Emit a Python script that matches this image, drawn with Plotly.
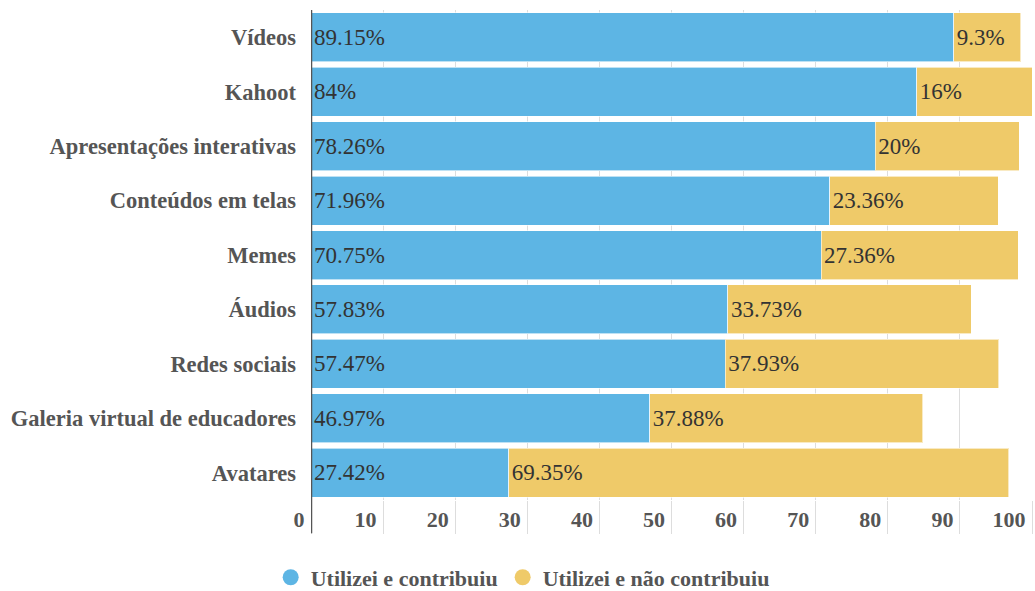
import plotly.graph_objects as go

# Ferramentas avaliadas (de cima para baixo)
categorias = [
    "Vídeos",
    "Kahoot",
    "Apresentações interativas",
    "Conteúdos em telas",
    "Memes",
    "Áudios",
    "Redes sociais",
    "Galeria virtual de educadores",
    "Avatares",
]
contribuiu = [89.15, 84, 78.26, 71.96, 70.75, 57.83, 57.47, 46.97, 27.42]
nao_contribuiu = [9.3, 16, 20, 23.36, 27.36, 33.73, 37.93, 37.88, 69.35]
ticks_x = [0, 10, 20, 30, 40, 50, 60, 70, 80, 90, 100]

serie_nomes = ["Utilizei e contribuiu", "Utilizei e não contribuiu"]
cores = ["#5DB5E4", "#EFCA69"]
fonte = "Times New Roman, Liberation Serif, DejaVu Serif, serif"

fig = go.Figure()

for nome, valores, cor in zip(serie_nomes, [contribuiu, nao_contribuiu], cores):
    fig.add_trace(go.Bar(
        y=categorias,
        x=valores,
        orientation="h",
        name=nome,
        marker=dict(color=cor, line=dict(color="rgba(255,255,255,0.6)", width=1)),
        text=[f"{v:g}%" for v in valores],
        textposition="inside",
        insidetextanchor="start",
        textangle=0,
        constraintext="none",
        textfont=dict(family=fonte, size=23, color="#333333"),
        showlegend=False,
        hoverinfo="skip",
    ))
    # Entrada de legenda com marcador circular
    fig.add_trace(go.Scatter(
        x=[None], y=[None], mode="markers", name=nome,
        marker=dict(color=cor, size=20, symbol="circle"),
        showlegend=True,
    ))

# Linha do eixo vertical, prolongada até a área dos rótulos
fig.add_shape(type="line", xref="x", yref="paper", x0=0, x1=0, y0=-0.068, y1=1,
              line=dict(color="#555555", width=2.5), layer="above")

fig.update_layout(
    width=1035,
    height=591,
    barmode="stack",
    bargap=0.1,
    plot_bgcolor="white",
    paper_bgcolor="white",
    margin=dict(l=311, r=3, t=10, b=91, autoexpand=False),
    font=dict(family=fonte),
    legend=dict(
        orientation="h",
        xref="container", yref="paper",
        x=0.505, xanchor="center",
        y=-0.158, yanchor="middle",
        font=dict(family=fonte, size=22, color="#555555", weight="bold"),
        itemsizing="trace",
        traceorder="normal",
    ),
    xaxis=dict(
        range=[0, 100],
        tickvals=ticks_x,
        showgrid=True,
        gridcolor="#DDDDDD",
        gridwidth=1,
        zeroline=False,
        showline=False,
        ticks="outside",
        ticklen=33,
        tickcolor="#DDDDDD",
        tickwidth=1,
        ticklabelposition="outside left",
        ticklabelshift=-6,
        tickfont=dict(family=fonte, size=22, color="#555555", weight="bold"),
        fixedrange=True,
    ),
    yaxis=dict(
        categoryorder="array",
        categoryarray=categorias[::-1],
        showgrid=False,
        zeroline=False,
        showline=False,
        ticks="",
        ticklabelstandoff=14,
        tickfont=dict(family=fonte, size=22.5, color="#555555", weight="bold"),
        fixedrange=True,
    ),
)

fig.write_html("out.html")
